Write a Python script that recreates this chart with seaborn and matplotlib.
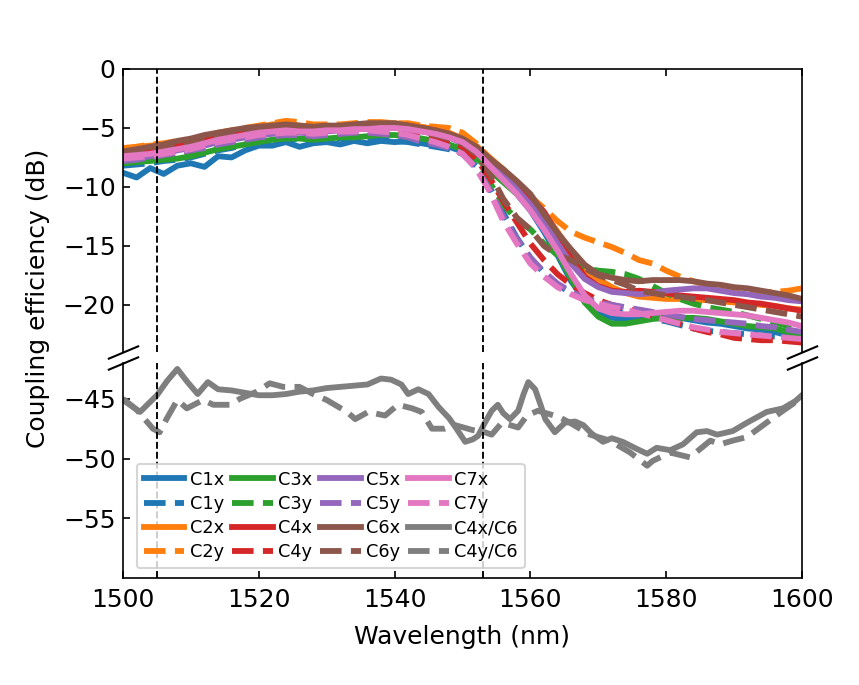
import matplotlib
matplotlib.use("Agg")
import matplotlib.pyplot as plt
import seaborn as sns

# ---------------- data ----------------
wavelength = list(range(1500, 1601, 2))

C1x = [-8.8, -9.2, -8.4, -8.9, -8.2, -8.0, -8.3, -7.4, -7.5, -6.9, -6.5,
       -6.5, -6.2, -6.6, -6.3, -6.2, -6.4, -6.1, -6.3, -6.1, -6.2,
       -6.1, -6.3, -6.5, -6.6, -7.0, -7.5, -8.4, -9.4, -10.6, -12.0,
       -13.8, -15.8, -18.0, -19.6, -20.6, -21.1, -21.2, -21.2, -21.0, -21.0,
       -21.1, -21.3, -21.5, -21.6, -21.8, -22.0, -22.1, -22.3, -22.6, -22.8]
C1y = [-8.2, -8.1, -8.0, -7.8, -7.7, -7.5, -7.2, -6.9, -6.7, -6.4, -6.2,
       -6.1, -6.0, -5.9, -6.0, -5.9, -5.9, -6.0, -6.1, -6.0, -6.1,
       -6.2, -6.4, -6.6, -6.8, -7.2, -8.2, -10.0, -12.2, -14.3, -16.0,
       -17.3, -18.3, -19.0, -19.5, -20.0, -20.4, -20.8, -21.0, -21.2, -21.4,
       -21.7, -22.0, -22.2, -22.3, -22.4, -22.5, -22.6, -22.7, -22.7, -22.8]
C2x = [-6.8, -6.6, -6.5, -6.4, -6.2, -6.0, -5.8, -5.5, -5.3, -5.1, -4.9,
       -4.7, -4.6, -4.8, -4.9, -4.8, -4.9, -4.7, -4.7, -4.6, -4.6,
       -4.8, -4.9, -5.1, -5.4, -5.9, -6.5, -7.5, -8.5, -9.6, -10.8,
       -12.2, -13.8, -15.5, -17.0, -17.8, -18.5, -19.0, -19.3, -19.4, -19.5,
       -19.5, -19.6, -19.6, -19.7, -19.8, -19.9, -20.0, -20.1, -20.3, -20.4]
C2y = [-6.7, -6.6, -6.4, -6.3, -6.1, -6.0, -5.7, -5.4, -5.2, -5.0, -4.8,
       -4.6, -4.4, -4.5, -4.7, -4.7, -4.7, -4.6, -4.5, -4.5, -4.6,
       -4.6, -4.8, -4.9, -5.0, -5.4, -6.3, -7.6, -8.8, -9.8, -10.8,
       -11.8, -12.9, -13.8, -14.3, -14.7, -15.1, -15.6, -16.2, -16.5, -17.1,
       -17.6, -18.0, -18.3, -18.5, -18.6, -18.7, -18.9, -18.9, -18.8, -18.6]
C3x = [-8.0, -7.9, -7.8, -7.7, -7.6, -7.4, -7.1, -6.8, -6.6, -6.4, -6.2,
       -6.0, -5.9, -5.9, -6.0, -5.9, -5.8, -5.8, -5.7, -5.6, -5.6,
       -5.7, -5.9, -6.1, -6.4, -6.8, -7.5, -8.6, -9.6, -10.6, -11.8,
       -13.5, -15.6, -17.8, -19.8, -21.0, -21.6, -21.6, -21.4, -21.2, -21.1,
       -21.1, -21.1, -21.2, -21.4, -21.6, -21.8, -21.9, -22.0, -22.3, -22.5]
C3y = [-7.8, -7.7, -7.6, -7.4, -7.3, -7.1, -6.9, -6.6, -6.3, -6.1, -5.9,
       -5.8, -5.7, -5.7, -5.8, -5.7, -5.6, -5.6, -5.5, -5.5, -5.6,
       -5.8, -6.1, -6.3, -6.6, -7.0, -8.0, -9.6, -11.5, -12.8, -13.6,
       -14.8, -15.8, -16.5, -16.9, -17.1, -17.2, -17.4, -17.8, -18.4, -19.0,
       -19.5, -19.9, -20.2, -20.4, -20.6, -20.9, -21.2, -21.5, -21.8, -22.1]
C4x = [-7.0, -6.9, -6.8, -6.6, -6.4, -6.2, -5.9, -5.7, -5.5, -5.3, -5.1,
       -5.0, -5.0, -5.1, -5.0, -5.0, -5.0, -4.9, -4.8, -4.7, -4.7,
       -4.8, -5.0, -5.2, -5.5, -6.0, -6.6, -7.6, -8.8, -9.9, -10.9,
       -12.1, -14.0, -16.0, -17.6, -18.4, -18.8, -18.9, -18.8, -18.9, -19.0,
       -19.2, -19.3, -19.4, -19.5, -19.6, -19.8, -19.9, -20.1, -20.3, -20.5]
C4y = [-7.2, -7.1, -6.9, -6.8, -6.6, -6.5, -6.2, -6.0, -5.8, -5.5, -5.3,
       -5.2, -5.2, -5.3, -5.2, -5.2, -5.2, -5.1, -5.0, -5.0, -5.1,
       -5.3, -5.6, -5.8, -6.1, -6.6, -7.6, -9.2, -11.2, -13.0, -14.8,
       -16.2, -17.4, -18.3, -19.0, -19.6, -20.0, -20.3, -20.6, -20.9, -21.3,
       -21.6, -22.0, -22.3, -22.5, -22.8, -22.9, -23.0, -23.0, -23.1, -23.2]
C5x = [-7.7, -7.6, -7.4, -7.2, -6.9, -6.7, -6.5, -6.2, -6.0, -5.8, -5.6,
       -5.5, -5.4, -5.4, -5.5, -5.3, -5.2, -5.1, -5.0, -5.0, -5.0,
       -5.1, -5.3, -5.5, -5.8, -6.3, -7.0, -8.0, -9.0, -10.2, -11.5,
       -13.0, -14.8, -16.5, -17.8, -18.5, -18.9, -19.0, -19.1, -19.0, -18.8,
       -18.7, -18.6, -18.6, -18.8, -19.0, -19.1, -19.3, -19.4, -19.6, -19.7]
C5y = [-7.8, -7.7, -7.5, -7.3, -7.1, -6.9, -6.7, -6.4, -6.2, -6.0, -5.8,
       -5.7, -5.6, -5.6, -5.7, -5.6, -5.5, -5.4, -5.4, -5.5, -5.6,
       -5.8, -6.2, -6.4, -6.7, -7.2, -8.4, -10.2, -12.5, -14.4, -16.0,
       -17.2, -18.2, -18.9, -19.4, -19.8, -20.0, -20.2, -20.4, -20.6, -20.8,
       -21.0, -21.2, -21.3, -21.4, -21.5, -21.6, -21.8, -21.9, -22.1, -22.3]
C6x = [-7.0, -6.8, -6.6, -6.4, -6.1, -5.9, -5.6, -5.4, -5.2, -5.0, -4.9,
       -4.8, -4.7, -4.8, -4.9, -4.8, -4.8, -4.7, -4.6, -4.6, -4.6,
       -4.8, -5.0, -5.2, -5.5, -5.9, -6.6, -7.6, -8.5, -9.5, -10.6,
       -12.3, -13.9, -15.3, -16.6, -17.4, -17.7, -17.9, -18.0, -17.9, -17.9,
       -17.9, -18.0, -18.2, -18.3, -18.5, -18.6, -18.8, -19.0, -19.2, -19.5]
C6y = [-7.3, -7.2, -7.0, -6.8, -6.6, -6.4, -6.1, -5.8, -5.6, -5.4, -5.1,
       -5.0, -5.0, -5.0, -5.1, -5.0, -5.0, -4.9, -4.8, -4.8, -4.9,
       -5.0, -5.3, -5.6, -5.9, -6.3, -7.2, -8.8, -11.0, -12.6, -13.6,
       -15.0, -15.8, -16.2, -16.9, -17.5, -17.9, -18.3, -18.8, -19.0, -19.2,
       -19.3, -19.5, -19.6, -19.8, -20.0, -20.2, -20.4, -20.6, -20.8, -21.0]
C7x = [-7.4, -7.3, -7.2, -7.0, -6.8, -6.6, -6.3, -6.0, -5.8, -5.6, -5.4,
       -5.3, -5.2, -5.3, -5.3, -5.2, -5.2, -5.1, -5.1, -5.0, -5.0,
       -5.1, -5.3, -5.5, -5.8, -6.2, -7.0, -8.2, -9.4, -10.6, -12.0,
       -13.6, -15.4, -17.4, -19.2, -20.3, -20.7, -20.8, -20.8, -20.7, -20.6,
       -20.5, -20.5, -20.6, -20.7, -20.8, -20.9, -21.1, -21.3, -21.5, -21.8]
C7y = [-7.6, -7.5, -7.4, -7.2, -7.0, -6.8, -6.5, -6.2, -6.0, -5.8, -5.6,
       -5.5, -5.4, -5.4, -5.5, -5.4, -5.3, -5.3, -5.2, -5.3, -5.4,
       -5.6, -5.9, -6.2, -6.6, -7.2, -8.4, -10.4, -12.9, -14.8, -16.5,
       -17.6, -18.5, -19.1, -19.6, -19.9, -20.2, -20.4, -20.7, -21.0, -21.3,
       -21.6, -21.9, -22.1, -22.3, -22.4, -22.5, -22.6, -22.7, -22.8, -22.9]

wl_C4x_C6 = [1500, 1502.5, 1505, 1506.5, 1508, 1509.5, 1511, 1512.5, 1514, 1516,
             1518, 1520, 1522, 1524, 1526, 1528, 1530, 1532, 1534, 1536,
             1538, 1539.5, 1541, 1542, 1543.5, 1545, 1546.5, 1548, 1549, 1550.4,
             1551.5, 1552.3, 1553.3, 1554.3, 1555.2, 1556, 1557, 1558.2, 1559, 1559.7,
             1560.7, 1561.5, 1562.2, 1563.6, 1565.1, 1566.6, 1567.8, 1569, 1570.7, 1572,
             1573.6, 1575.7, 1577.2, 1578.6, 1580.6, 1582.5, 1584.5, 1586, 1587.5, 1589.8,
             1591.9, 1594.8, 1597.2, 1599, 1600]
C4x_C6 = [-45.1, -46.1, -44.7, -43.5, -42.5, -43.6, -44.6, -43.6, -44.2, -44.3,
          -44.5, -44.7, -44.7, -44.6, -44.4, -44.3, -44.1, -44.0, -43.9, -43.8,
          -43.3, -43.4, -43.8, -44.6, -44.2, -44.6, -45.7, -46.6, -47.4, -48.6,
          -48.4, -48.1, -47.0, -46.0, -45.5, -46.2, -46.7, -46.0, -44.6, -43.6,
          -44.2, -45.5, -46.7, -47.8, -47.0, -46.9, -47.2, -47.9, -48.6, -48.3,
          -48.6, -49.2, -49.6, -49.1, -49.3, -48.8, -47.8, -47.7, -48.0, -47.7,
          -47.0, -46.1, -45.8, -45.2, -44.7]

wl_C4y_C6 = [1500, 1502, 1504.4, 1505.4, 1506.4, 1508, 1509.4, 1511.8, 1513.3, 1515.8,
             1517.2, 1519.7, 1521.6, 1523.6, 1526, 1528, 1530, 1533, 1534.2, 1536.1,
             1538.6, 1540.5, 1542.6, 1544, 1545.5, 1547.4, 1548.9, 1551.4, 1553.3, 1554.3,
             1555.8, 1558.2, 1559.5, 1561.1, 1564.1, 1565.5, 1568.8, 1571.7, 1574.7, 1577.2,
             1578, 1580.6, 1583.5, 1585, 1586.5, 1588, 1589.8, 1591.9, 1594.3, 1597.2, 1600]
C4y_C6 = [-45.0, -45.9, -47.5, -47.8, -46.7, -45.1, -45.8, -45.1, -45.5, -45.5,
          -45.0, -44.4, -43.7, -44.0, -44.0, -44.6, -45.1, -46.1, -46.7, -46.1,
          -46.4, -45.5, -45.8, -46.1, -47.5, -47.5, -47.2, -47.6, -47.8, -48.0,
          -47.0, -47.4, -46.4, -46.0, -46.5, -46.9, -48.0, -48.5, -49.5, -50.6,
          -50.2, -49.5, -49.9, -49.2, -48.5, -48.8, -48.5, -48.2, -47.2, -46.0, -44.9]

labels_top = ["C1x", "C1y", "C2x", "C2y", "C3x", "C3y", "C4x", "C4y",
              "C5x", "C5y", "C6x", "C6y", "C7x", "C7y"]
labels_bottom = ["C4x/C6", "C4y/C6"]
marker_lines = [1505, 1553]
x_ticks = [1500, 1520, 1540, 1560, 1580, 1600]

# ---------------- figure ----------------
plt.rcParams["font.family"] = ["DejaVu Sans"]
plt.rcParams["font.size"] = 12

fig = plt.figure(figsize=(859 / 150, 685 / 150), dpi=150)
ax1 = fig.add_axes([0.1432, 0.4861, 0.7904, 0.4132])
ax2 = fig.add_axes([0.1432, 0.1562, 0.7904, 0.3139])

top_values = [C1x, C1y, C2x, C2y, C3x, C3y, C4x, C4y, C5x, C5y, C6x, C6y, C7x, C7y]
palette = sns.color_palette("tab10")
LW = 2.8
handles = []
for i, (name, vals) in enumerate(zip(labels_top, top_values)):
    col = palette[i // 2]
    ls = "-" if name.endswith("x") else "--"
    sns.lineplot(x=wavelength, y=vals, ax=ax1, color=col, linewidth=LW, legend=False)
    ln = ax1.lines[-1]
    ln.set_linestyle(ls)
    handles.append(ln)

grey = palette[7]
for name, wl, vals, ls in [(labels_bottom[0], wl_C4x_C6, C4x_C6, "-"),
                           (labels_bottom[1], wl_C4y_C6, C4y_C6, "--")]:
    sns.lineplot(x=wl, y=vals, ax=ax2, color=grey, linewidth=LW, legend=False)
    ln = ax2.lines[-1]
    ln.set_linestyle(ls)
    handles.append(ln)

for ax in (ax1, ax2):
    for xv in marker_lines:
        ax.axvline(xv, color="k", linestyle="--", linewidth=0.9, zorder=5)
    ax.set_xlim(1500, 1600)
    ax.set_xticks(x_ticks)

ax1.set_ylim(-24, 0)
ax1.set_yticks([0, -5, -10, -15, -20])
ax2.set_ylim(-60, -42)
ax2.set_yticks([-45, -50, -55])

ax1.spines["bottom"].set_visible(False)
ax2.spines["top"].set_visible(False)
ax1.tick_params(axis="both", direction="in", top=True, bottom=False,
                labelbottom=False, right=False)
ax2.tick_params(axis="both", direction="in", top=False, bottom=True, right=False)
ax2.tick_params(axis="x", pad=5)

# broken-axis marks
d = 0.42
kw = dict(marker=[(-1, -d), (1, d)], markersize=15, linestyle="none",
          color="k", mec="k", mew=1, clip_on=False)
ax1.plot([0, 1], [0, 0], transform=ax1.transAxes, **kw)
ax2.plot([0, 1], [1, 1], transform=ax2.transAxes, **kw)

ax2.set_xlabel("Wavelength (nm)", labelpad=6)
fig.text(0.044, 0.565, "Coupling efficiency (dB)", rotation=90,
         ha="center", va="center", fontsize=12)

ax2.legend(handles, labels_top + labels_bottom, ncol=4, loc="lower left",
           bbox_to_anchor=(0.02, 0.045), borderaxespad=0.0,
           fontsize=8.5, handlelength=2.3, handletextpad=0.3,
           columnspacing=0.45, labelspacing=0.35)

fig.savefig("out.png", dpi=150)
